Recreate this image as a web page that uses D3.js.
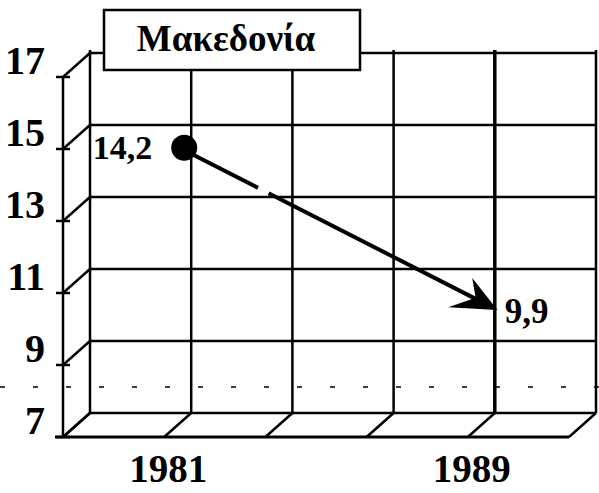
<!DOCTYPE html>
<html>
<head>
<meta charset="utf-8">
<script src="https://d3js.org/d3.v7.min.js"></script>
<style>
  body { margin: 0; background: #fff; }
  svg text { font-family: "Liberation Serif", "DejaVu Serif", serif; font-weight: bold; fill: #000; }
</style>
</head>
<body>
<div id="chart"></div>
<script>
// chart data
const title = "Μακεδονία";
const columns = ["c0", "1981", "c2", "c3", "1989", "c5"];
const years = ["1981", "1989"];
const values = [14.2, 9.9];
const valueLabels = ["14,2", "9,9"];
const yTicks = [7, 9, 11, 13, 15, 17];

const width = 599, height = 493;
const depthX = -27, depthY = 24;   // offset from back wall to front edge

const svg = d3.select("#chart")
    .append("svg")
    .attr("width", width)
    .attr("height", height);

const x = d3.scalePoint().domain(columns).range([90, 596]);
const y = d3.scaleLinear().domain([7, 17]).range([413, 53]);

const ink = "#000";

// faint scan dashes
svg.append("line")
    .attr("x1", 0).attr("x2", width)
    .attr("y1", 387).attr("y2", 387)
    .style("stroke", ink).style("stroke-width", 1.5)
    .style("stroke-dasharray", "5,28");

// back wall horizontal lines
svg.selectAll(".hline")
    .data(yTicks)
    .enter()
    .append("line")
    .attr("x1", x.range()[0]).attr("x2", x.range()[1])
    .attr("y1", d => y(d)).attr("y2", d => y(d))
    .style("stroke", ink).style("stroke-width", 2.5);

// back wall vertical lines
svg.selectAll(".vline")
    .data(columns)
    .enter()
    .append("line")
    .attr("x1", d => x(d)).attr("x2", d => x(d))
    .attr("y1", y(17) - 3).attr("y2", y(7))
    .style("stroke", ink).style("stroke-width", (d, i) => i === 4 ? 3.5 : 2.5);

// floor diagonals
svg.selectAll(".floor")
    .data(columns)
    .enter()
    .append("line")
    .attr("x1", d => x(d)).attr("y1", y(7))
    .attr("x2", d => x(d) + depthX).attr("y2", y(7) + depthY)
    .style("stroke", ink).style("stroke-width", 2.5);

// floor front edge
svg.append("line")
    .attr("x1", 55).attr("x2", x.range()[1] + depthX)
    .attr("y1", y(7) + depthY).attr("y2", y(7) + depthY)
    .style("stroke", ink).style("stroke-width", 3);

// front axis
const fx = x.range()[0] + depthX;
svg.append("line")
    .attr("x1", fx).attr("x2", fx)
    .attr("y1", y(17) + depthY).attr("y2", y(7) + depthY)
    .style("stroke", ink).style("stroke-width", 2.5);

svg.selectAll(".tick")
    .data(yTicks)
    .enter()
    .append("line")
    .attr("x1", fx - 7).attr("x2", fx + 7)
    .attr("y1", d => y(d) + depthY).attr("y2", d => y(d) + depthY)
    .style("stroke", ink).style("stroke-width", 2.5);

svg.selectAll(".side")
    .data(yTicks)
    .enter()
    .append("line")
    .attr("x1", fx).attr("y1", d => y(d) + depthY)
    .attr("x2", x.range()[0]).attr("y2", d => y(d))
    .style("stroke", ink).style("stroke-width", 2.5);

svg.selectAll(".ylab")
    .data(yTicks)
    .enter()
    .append("text")
    .attr("x", 45)
    .attr("y", d => y(d) + depthY - 3)
    .attr("text-anchor", "end")
    .style("font-size", "40px")
    .text(d => d);

// x labels
svg.selectAll(".xlab")
    .data(years)
    .enter()
    .append("text")
    .attr("x", d => x(d) + depthX + 4)
    .attr("y", 482)
    .attr("text-anchor", "middle")
    .style("font-size", "39px")
    .text(d => d);

// title box
svg.append("rect")
    .attr("x", 104).attr("y", 10)
    .attr("width", 256).attr("height", 60)
    .style("fill", "#fff").style("stroke", ink).style("stroke-width", 2.5);

svg.append("text")
    .attr("x", 226).attr("y", 51)
    .attr("text-anchor", "middle")
    .style("font-size", "37px")
    .text(title);

// arrow
svg.append("defs").append("marker")
    .attr("id", "head")
    .attr("markerUnits", "userSpaceOnUse")
    .attr("viewBox", "-46 -22 50 46")
    .attr("refX", 0).attr("refY", 0)
    .attr("markerWidth", 50).attr("markerHeight", 46)
    .attr("orient", "auto")
    .append("path")
    .attr("d", "M3,0 L-34,-17 L-22,-1 L-42,20 Z")
    .style("fill", ink);

const pts = years.map((d, i) => [x(d), y(values[i])]);
const len = Math.hypot(pts[1][0] - pts[0][0], pts[1][1] - pts[0][1]);

svg.append("line")
    .attr("x1", pts[0][0]).attr("y1", pts[0][1])
    .attr("x2", pts[1][0]).attr("y2", pts[1][1])
    .style("stroke", ink).style("stroke-width", 4)
    .style("stroke-dasharray", `${len * 0.22},${len * 0.035},${len}`)
    .attr("marker-end", "url(#head)");

svg.append("circle")
    .attr("cx", pts[0][0] - 7).attr("cy", pts[0][1] - 6)
    .attr("r", 13)
    .style("fill", ink);

// value labels
svg.append("text")
    .attr("x", pts[0][0] - 39).attr("y", pts[0][1] + 5)
    .attr("text-anchor", "end")
    .style("font-size", "34px")
    .text(valueLabels[0]);

svg.append("text")
    .attr("x", pts[1][0] + 10).attr("y", pts[1][1] + 14)
    .style("font-size", "35px")
    .text(valueLabels[1]);
</script>
</body>
</html>
